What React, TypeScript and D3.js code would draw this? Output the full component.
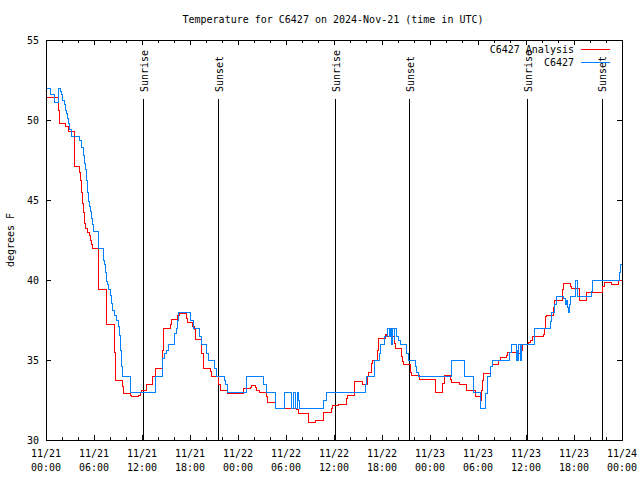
import * as d3 from "d3";

// Hours since 2024-11-21 00:00 UTC, and temperature (°F)
const analysisHours = [0, 1.5, 1.71, 2.46, 2.75, 3.54, 4.17, 4.25, 4.41, 4.54, 4.71, 4.79, 4.91, 5.21, 5.375, 5.5, 5.625, 5.83, 6.54, 7.58, 8.5, 8.66, 9.54, 9.66, 10.58, 10.71, 11.54, 11.75, 11.96, 12.59, 13.29, 13.625, 14.58, 14.66, 15.5, 15.625, 16.46, 16.66, 17.5, 17.71, 18.34, 18.5, 18.625, 19.46, 19.66, 20.5, 20.71, 21.54, 21.75, 22.71, 24.66, 25.59, 25.71, 26.125, 26.34, 26.625, 27.59, 27.66, 28.625, 31.34, 31.54, 32.79, 33.71, 34.66, 35.71, 35.84, 36.54, 37.59, 37.66, 38.59, 39.59, 40.09, 40.16, 40.29, 40.71, 40.84, 41.46, 41.54, 42.46, 42.59, 43.5, 43.625, 44.46, 44.54, 44.66, 45.5, 45.625, 46.66, 48.625, 49.59, 49.75, 50.5, 50.71, 51.66, 52.59, 53.625, 54.25, 54.46, 54.54, 54.66, 55.5, 55.79, 56.54, 56.75, 57.5, 57.66, 58.84, 59.46, 59.59, 60.29, 60.5, 60.84, 62.16, 62.29, 62.46, 62.59, 63.41, 63.54, 64.59, 64.66, 65.5, 65.625, 66.66, 67.59, 69.59, 69.79, 70.625, 71.54, 72];
const analysisTemps = [51.4, 50.6, 49.8, 49.6, 49.3, 47.1, 46.7, 46.25, 45.5, 44.8, 44.2, 43.55, 43.2, 43.0, 42.8, 42.5, 42.25, 42.0, 39.4, 37.25, 35.5, 33.75, 33.33, 32.9, 32.8, 32.7, 32.8, 33.0, 33.1, 33.5, 34.0, 34.5, 35.6, 37.0, 37.25, 37.55, 37.8, 37.9, 37.6, 37.35, 37.1, 36.9, 36.3, 35.4, 34.5, 34.3, 34.0, 33.5, 33.1, 32.9, 33.2, 33.3, 33.4, 33.3, 33.1, 33.0, 32.7, 32.35, 32.0, 31.9, 31.65, 31.1, 31.25, 31.75, 32.0, 32.15, 32.25, 32.6, 32.8, 33.65, 33.45, 33.5, 34.0, 34.25, 34.8, 35.0, 35.6, 36.35, 36.6, 36.5, 36.05, 35.75, 35.2, 34.9, 34.7, 34.25, 34.05, 33.8, 33.0, 33.55, 34.05, 33.8, 33.6, 33.5, 33.1, 32.7, 32.5, 33.1, 33.75, 34.15, 34.6, 34.7, 35.0, 35.15, 35.3, 35.5, 35.4, 35.6, 36.0, 36.1, 36.25, 36.45, 36.6, 37.0, 37.7, 37.8, 38.3, 38.7, 39.4, 39.8, 39.6, 39.5, 38.75, 39.2, 39.6, 39.85, 39.75, 40.0, 40.0];

const stationHours = [0, 0.58, 1.0, 1.5, 1.83, 1.96, 2.1, 2.25, 2.375, 2.54, 2.67, 2.75, 2.875, 3.2, 4.17, 4.46, 4.67, 4.83, 4.96, 5.08, 5.125, 5.29, 5.41, 5.5, 5.66, 5.79, 5.91, 6.54, 7.16, 7.29, 7.375, 7.5, 7.625, 7.84, 8.0, 8.16, 8.34, 8.5, 8.84, 9.04, 9.16, 9.25, 9.46, 9.54, 10.59, 13.625, 14.59, 14.79, 15.09, 15.29, 16.0, 16.25, 16.41, 16.54, 18.09, 18.41, 19.16, 19.375, 20.09, 20.34, 21.0, 21.25, 22.29, 22.41, 22.66, 25.09, 27.16, 27.5, 28.625, 29.75, 30.71, 30.875, 31.21, 31.375, 31.5, 31.69, 34.66, 35.0, 39.875, 40.09, 41.0, 41.625, 41.84, 42.29, 42.66, 42.875, 43.0, 43.21, 43.31, 43.5, 43.59, 43.75, 43.84, 44.04, 44.25, 45.09, 45.29, 46.125, 46.25, 46.54, 50.71, 52.29, 53.41, 54.25, 54.875, 55.16, 55.5, 55.79, 57.91, 58.21, 58.75, 58.84, 58.96, 59.09, 59.25, 59.375, 61.04, 63.0, 63.21, 63.54, 63.84, 64.66, 64.875, 65.09, 65.21, 65.29, 65.375, 65.5, 66.16, 66.46, 68.125, 68.29, 71.66, 71.75, 71.875, 72];
const stationTemps = [52.0, 51.6, 51.1, 52.0, 51.8, 51.6, 51.25, 51.0, 50.6, 50.4, 50.1, 49.8, 49.4, 49.0, 48.75, 48.3, 47.8, 47.3, 46.9, 46.25, 45.5, 44.9, 44.6, 44.27, 43.85, 43.45, 43.05, 42.0, 41.25, 40.95, 40.5, 39.9, 39.7, 39.4, 39.05, 38.55, 38.1, 37.8, 37.5, 37.1, 36.55, 35.6, 34.6, 34.0, 33.0, 34.0, 35.1, 35.4, 35.6, 36.0, 36.65, 37.0, 37.5, 38.0, 37.5, 37.0, 36.5, 36.0, 35.4, 35.0, 34.5, 34.0, 33.75, 33.45, 33.0, 34.0, 33.45, 33.0, 32.0, 33.0, 32.0, 33.0, 32.0, 33.0, 32.5, 32.0, 32.5, 33.0, 33.5, 34.0, 35.0, 35.4, 36.0, 36.45, 37.0, 36.5, 37.0, 36.0, 37.0, 36.3, 37.0, 36.7, 36.5, 36.25, 36.0, 35.4, 35.0, 34.6, 34.2, 34.0, 35.0, 34.0, 33.0, 32.0, 32.9, 34.0, 34.6, 35.0, 35.5, 36.0, 35.0, 35.6, 35.0, 36.0, 35.0, 36.0, 37.0, 37.4, 38.0, 38.45, 39.0, 38.85, 38.45, 38.75, 38.3, 37.95, 38.45, 39.0, 40.0, 39.0, 39.3, 40.0, 40.5, 40.95, 41.0, 41.0];

const sunEventHours = [12.17, 21.54, 36.16, 45.41, 60.16, 69.46];
const sunEventLabels = ["Sunrise", "Sunset", "Sunrise", "Sunset", "Sunrise", "Sunset"];

const xTickHours = [0, 6, 12, 18, 24, 30, 36, 42, 48, 54, 60, 66, 72];
const xTickDates = ["11/21", "11/21", "11/21", "11/21", "11/22", "11/22", "11/22", "11/22", "11/23", "11/23", "11/23", "11/23", "11/24"];
const xTickTimes = ["00:00", "06:00", "12:00", "18:00", "00:00", "06:00", "12:00", "18:00", "00:00", "06:00", "12:00", "18:00", "00:00"];
const yTicks = [30, 35, 40, 45, 50, 55];

const seriesNames = ["C6427 Analysis", "C6427"];
const seriesColors = ["#ff0000", "#0080ff"];

const FONT = "'DejaVu Sans Mono', 'Liberation Mono', monospace";

export default function App() {
  const W = 640, H = 480;
  const L = 46, R = 622, T = 40, B = 440;
  const x = d3.scaleLinear().domain([0, 72]).range([L, R]);
  const y = d3.scaleLinear().domain([30, 55]).range([B, T]);

  const line = d3
    .line<[number, number]>()
    .x((d) => x(d[0]))
    .y((d) => y(d[1]))
    .curve(d3.curveStepAfter);

  const analysis: [number, number][] = analysisHours.map((h, i) => [h, analysisTemps[i]]);
  const station: [number, number][] = stationHours.map((h, i) => [h, stationTemps[i]]);

  const minorTicks = d3.range(0, 73, 2).filter((h) => h % 6 !== 0);
  const px = (v: number) => Math.round(v) + 0.5;

  return (
    <svg
      width={W}
      height={H}
      style={{ position: "absolute", left: 0, top: 0, background: "#fff" }}
      fontFamily={FONT}
      fontSize={10}
    >
      <rect x={0} y={0} width={W} height={H} fill="#fff" />
      <text x={333} y={23} textAnchor="middle" fill="#000">
        Temperature for C6427 on 2024-Nov-21 (time in UTC)
      </text>

      {/* y ticks */}
      {yTicks.map((t) => (
        <g key={"y" + t}>
          <line x1={L} x2={L + 5} y1={px(y(t))} y2={px(y(t))} stroke="#000" shapeRendering="crispEdges" />
          <line x1={R - 5} x2={R} y1={px(y(t))} y2={px(y(t))} stroke="#000" shapeRendering="crispEdges" />
          <text x={39} y={y(t) + 4} textAnchor="end" fill="#000">
            {t}
          </text>
        </g>
      ))}

      {/* x ticks */}
      {xTickHours.map((h, i) => (
        <g key={"x" + h}>
          <line x1={px(x(h))} x2={px(x(h))} y1={B} y2={B - 5} stroke="#000" shapeRendering="crispEdges" />
          <line x1={px(x(h))} x2={px(x(h))} y1={T} y2={T + 5} stroke="#000" shapeRendering="crispEdges" />
          <text x={x(h)} y={457} textAnchor="middle" fill="#000">
            {xTickDates[i]}
          </text>
          <text x={x(h)} y={471} textAnchor="middle" fill="#000">
            {xTickTimes[i]}
          </text>
        </g>
      ))}
      {minorTicks.map((h) => (
        <g key={"m" + h}>
          <line x1={px(x(h))} x2={px(x(h))} y1={B} y2={B - 3} stroke="#000" shapeRendering="crispEdges" />
          <line x1={px(x(h))} x2={px(x(h))} y1={T} y2={T + 3} stroke="#000" shapeRendering="crispEdges" />
        </g>
      ))}

      <text transform="translate(14,240) rotate(-90)" textAnchor="middle" fill="#000">
        degrees F
      </text>

      {/* sunrise / sunset */}
      {sunEventHours.map((h, i) => (
        <g key={"s" + i}>
          <line x1={px(x(h))} x2={px(x(h))} y1={99} y2={B} stroke="#000" shapeRendering="crispEdges" />
          <text
            transform={`translate(${x(h)},92) rotate(-90)`}
            dy={4.5}
            textAnchor="start"
            fill="#000"
          >
            {sunEventLabels[i]}
          </text>
        </g>
      ))}

      {/* series */}
      <path d={line(analysis) || ""} fill="none" stroke={seriesColors[0]} strokeWidth={1} shapeRendering="crispEdges" />
      <path d={line(station) || ""} fill="none" stroke={seriesColors[1]} strokeWidth={1} shapeRendering="crispEdges" />

      {/* legend */}
      {seriesNames.map((n, i) => (
        <g key={"l" + i}>
          <text x={574} y={53 + i * 12.5} textAnchor="end" fill="#000">
            {n}
          </text>
          <line x1={581} x2={610} y1={49.5 + i * 12.5} y2={49.5 + i * 12.5} stroke={seriesColors[i]} shapeRendering="crispEdges" />
        </g>
      ))}

      <rect x={L + 0.5} y={T + 0.5} width={R - L} height={B - T} fill="none" stroke="#000" shapeRendering="crispEdges" />
    </svg>
  );
}
